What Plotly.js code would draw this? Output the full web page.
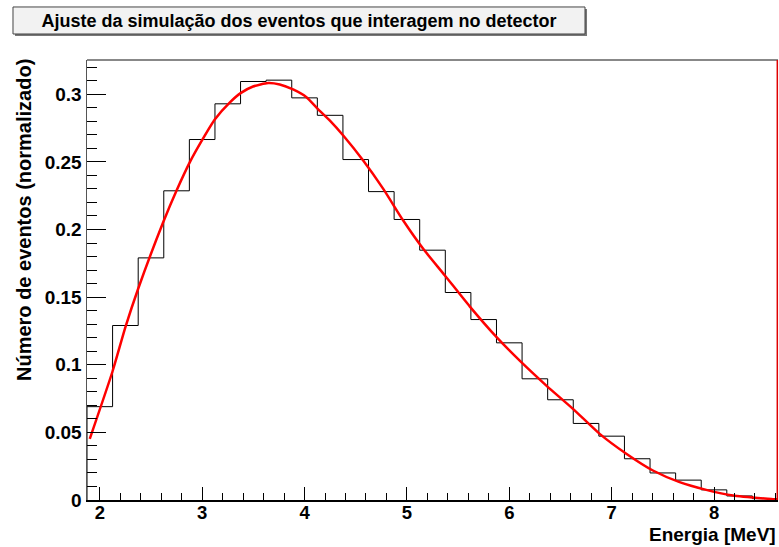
<!DOCTYPE html>
<html>
<head>
<meta charset="utf-8">
<script src="https://cdn.plot.ly/plotly-3.0.1.min.js"></script>
<style>html,body{margin:0;padding:0;background:#fff;}#chart{width:779px;height:547px;}</style>
</head>
<body>
<div id="chart"></div>
<script>
// Histogram (bin edges and normalized contents)
const binEdges = [1.875, 2.125, 2.375, 2.625, 2.875, 3.125, 3.375, 3.625, 3.875, 4.125,
                  4.375, 4.625, 4.875, 5.125, 5.375, 5.625, 5.875, 6.125, 6.375, 6.625,
                  6.875, 7.125, 7.375, 7.625, 7.875, 8.125, 8.375, 8.625];
const binValues = [0.069, 0.129, 0.179, 0.2286, 0.2665, 0.2929, 0.3094, 0.3104, 0.2973, 0.2844,
                   0.2517, 0.228, 0.2074, 0.1847, 0.1534, 0.1334, 0.1162, 0.0896, 0.0741, 0.0566,
                   0.0472, 0.0305, 0.0200, 0.0147, 0.0075, 0.003, 0.001];

// Fit curve
const fitX = [1.902, 2.124, 2.251, 2.374, 2.620, 2.751, 2.881, 2.995, 3.125, 3.271, 3.379, 3.497,
              3.644, 3.758, 3.888, 4.019, 4.129, 4.248, 4.378, 4.573, 4.769, 4.964, 5.159, 5.371,
              5.615, 5.876, 6.102, 6.362, 6.622, 6.883, 7.143, 7.403, 7.664, 7.924, 8.185,
              8.576, 8.620];
const fitY = [0.0452, 0.0950, 0.128, 0.156, 0.2055, 0.229, 0.250, 0.2655, 0.2815, 0.294, 0.301, 0.3057,
              0.3083, 0.3072, 0.3035, 0.2978, 0.2892, 0.2805, 0.2695, 0.251, 0.230, 0.2066, 0.1857, 0.1660,
              0.1430, 0.1204, 0.1030, 0.0846, 0.0674, 0.0489, 0.0342, 0.0218, 0.0132, 0.0075, 0.0033,
              0.0006, 0.0003];

const xTicks = [2, 3, 4, 5, 6, 7, 8];
const yTicks = [0, 0.05, 0.1, 0.15, 0.2, 0.25, 0.3];

const titleText = "Ajuste da simulação dos eventos que interagem no detector";
const xTitle = "Energia [MeV]";
const yTitle = "Número de eventos (normalizado)";

// Build step outline from bins
const hx = [binEdges[0]];
const hy = [0];
for (let i = 0; i < binValues.length; i++) { hx.push(binEdges[i]); hy.push(binValues[i]); }
hx.push(binEdges[binEdges.length - 1]); hy.push(binValues[binValues.length - 1]);
hx.push(binEdges[binEdges.length - 1]); hy.push(0);

const FONT = '"Liberation Sans", Arial, Helvetica, sans-serif';

const traces = [
  {x: hx, y: hy, type: 'scatter', mode: 'lines', line: {shape: 'hv', color: '#000', width: 1},
   hoverinfo: 'skip', showlegend: false},
  {x: fitX, y: fitY, type: 'scatter', mode: 'lines', line: {shape: 'spline', smoothing: 0.6, color: '#ff0000', width: 2.5},
   showlegend: false}
];

const layout = {
  width: 779, height: 547,
  margin: {l: 87, r: 1, t: 60, b: 47, pad: 0},
  paper_bgcolor: '#fff', plot_bgcolor: '#fff',
  font: {family: FONT, color: '#000'},
  title: {text: titleText, font: {family: FONT, size: 18, weight: 'bold', color: '#000'},
          xref: 'paper', x: 0.3068, xanchor: 'center', yref: 'container', y: 0.9625, yanchor: 'middle'},
  xaxis: {range: [binEdges[0], binEdges[binEdges.length - 1]], tickvals: xTicks, ticktext: xTicks.map(String),
          ticks: 'inside', ticklen: 13, tickwidth: 1, tickcolor: '#000', ticklabelstandoff: -5,
          showline: true, linecolor: '#000', linewidth: 1.5, showgrid: false, zeroline: false,
          tickfont: {family: FONT, size: 18.5, weight: 'bold', color: '#000'},
          minor: {ticks: 'inside', ticklen: 7, tickwidth: 1, tickcolor: '#000', dtick: 0.2, tick0: 0, showgrid: false}},
  yaxis: {range: [0, 0.3253], tickvals: yTicks, ticktext: yTicks.map(String),
          ticks: 'inside', ticklen: 19, tickwidth: 1, tickcolor: '#000',
          showline: true, linecolor: '#555', linewidth: 1.5, showgrid: false, zeroline: false,
          tickfont: {family: FONT, size: 19, weight: 'bold', color: '#000'},
          minor: {ticks: 'inside', ticklen: 10, tickwidth: 1, tickcolor: '#000', dtick: 0.01, tick0: 0, showgrid: false}},
  shapes: [
    // title box shadow and box
    {type: 'rect', xref: 'paper', yref: 'paper', x0: -0.1042, x1: 0.7236, y0: 1.0545, y1: 1.1160,
     line: {width: 0}, fillcolor: '#777', layer: 'below'},
    {type: 'rect', xref: 'paper', yref: 'paper', x0: -0.1071, x1: 0.7207, y0: 1.0591, y1: 1.1205,
     line: {width: 1, color: '#444'}, fillcolor: '#f2f2f2', layer: 'below'},
    // top frame line and right frame line
    {type: 'line', xref: 'paper', yref: 'paper', x0: 0, x1: 1, y0: 1, y1: 1, line: {color: '#888', width: 2}},
    {type: 'line', xref: 'paper', yref: 'paper', x0: 0.999, x1: 0.999, y0: 0, y1: 1, line: {color: '#e00000', width: 1.5}}
  ],
  annotations: [
    {text: xTitle, xref: 'paper', yref: 'paper', x: 1, xanchor: 'right', y: -0.1068, yanchor: 'bottom',
     showarrow: false, font: {family: FONT, size: 19, weight: 'bold', color: '#000'}},
    {text: yTitle, xref: 'paper', yref: 'paper', x: -0.0912, xanchor: 'center', y: 1.0068, yanchor: 'top',
     textangle: -90, showarrow: false, font: {family: FONT, size: 20, weight: 'bold', color: '#000'}}
  ]
};

Plotly.newPlot('chart', traces, layout, {displayModeBar: false, staticPlot: true});
</script>
</body>
</html>
